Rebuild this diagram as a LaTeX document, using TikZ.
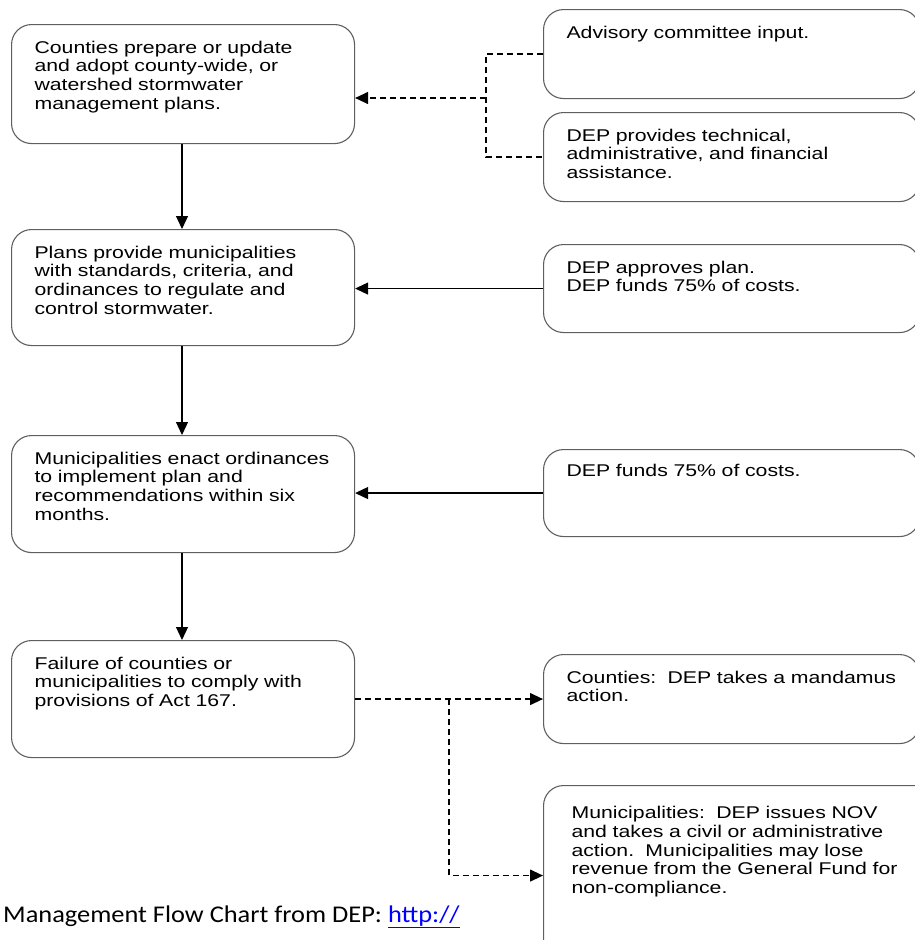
\documentclass[tikz,border=0pt]{standalone}
\usepackage{fontspec}
\setmainfont[FakeStretch=1.25]{Liberation Sans}
\newfontfamily\captionfont[FakeStretch=1.1]{Carlito}
\usepackage{tikz}
\usetikzlibrary{arrows.meta,calc}
\definecolor{boxgray}{RGB}{95,95,95}
\definecolor{linkblue}{RGB}{0,0,255}
\tikzset{
  stage/.style={draw=boxgray, line width=1.1pt, rounded corners=20pt,
    anchor=north west, inner xsep=23pt, inner ysep=0pt, align=left,
    text width=#1, text height=28.5pt,
    font=\fontsize{17}{18.8}\selectfont},
  flow/.style={-{Triangle[length=13pt,width=12pt]}, line width=1.2pt},
  hint/.style={flow, dash pattern=on 6pt off 4pt}
}

\begin{document}
\begin{tikzpicture}[x=1pt,y=-1pt]
  \useasboundingbox (0,0) rectangle (914,940);

  % left column
  \node[stage=297pt, text depth=90.5pt] (counties) at (11,24)
    {Counties prepare or update\\and adopt county-wide, or\\watershed stormwater\\management plans.};
  \node[stage=297pt, text depth=87.5pt] (plans) at (11,229)
    {Plans provide municipalities\\with standards, criteria, and\\ordinances to regulate and\\control stormwater.};
  \node[stage=297pt, text depth=88.5pt] (enact) at (11,435)
    {Municipalities enact ordinances\\to implement plan and\\recommendations within six\\months.};
  \node[stage=297pt, text depth=88.5pt] (failure) at (11,640)
    {Failure of counties or\\municipalities to comply with\\provisions of Act 167.};

  % right column
  \node[stage=330pt, text depth=60.5pt] (advisory) at (543,9)
    {Advisory committee input.};
  \node[stage=330pt, text depth=60.5pt] (assist) at (543,112)
    {DEP provides technical,\\administrative, and financial\\assistance.};
  \node[stage=330pt, text depth=59.5pt] (approve) at (543,244)
    {DEP approves plan.\\DEP funds 75\% of costs.};
  \node[stage=330pt, text depth=60.5pt, text height=26.5pt] (funds) at (543,449)
    {DEP funds 75\% of costs.};
  \node[stage=330pt, text depth=60.5pt] (mandamus) at (543,654)
    {Counties:\ \ DEP takes a mandamus\\action.};
  \node[stage=345pt, inner xsep=28pt, text height=33pt, text depth=147pt] (nov) at (543,785)
    {Municipalities:\ \ DEP issues NOV\\and takes a civil or administrative\\action.\ \ Municipalities may lose\\revenue from the General Fund for\\non-compliance.};

  % main flow
  \draw[flow] (182,0 |- counties.south) -- (182,0 |- plans.north);
  \draw[flow] (182,0 |- plans.south) -- (182,0 |- enact.north);
  \draw[flow] (182,0 |- enact.south) -- (182,0 |- failure.north);

  % inputs from the right
  \coordinate (merge) at (486,98);
  \draw[dash pattern=on 6pt off 4pt, line width=1.2pt]
    (advisory.west) -| (merge) |- (assist.west);
  \draw[hint] (merge) -- (merge -| counties.east);
  \draw[flow] (approve.west) -- (approve.west -| plans.east);
  \draw[flow] (funds.west) -- (funds.west -| enact.east);

  % enforcement
  \coordinate (split) at (449,0 |- failure.east);
  \draw[hint] (failure.east) -- (mandamus.west |- failure.east);
  \draw[hint] (split) |- (nov.west);

  \node[anchor=base west, inner sep=0pt, font=\captionfont\fontsize{24}{27}\selectfont]
    (caption) at (3,922)
    {Management Flow Chart from DEP: \textcolor{linkblue}{\underline{http://}}};
\end{tikzpicture}
\end{document}
